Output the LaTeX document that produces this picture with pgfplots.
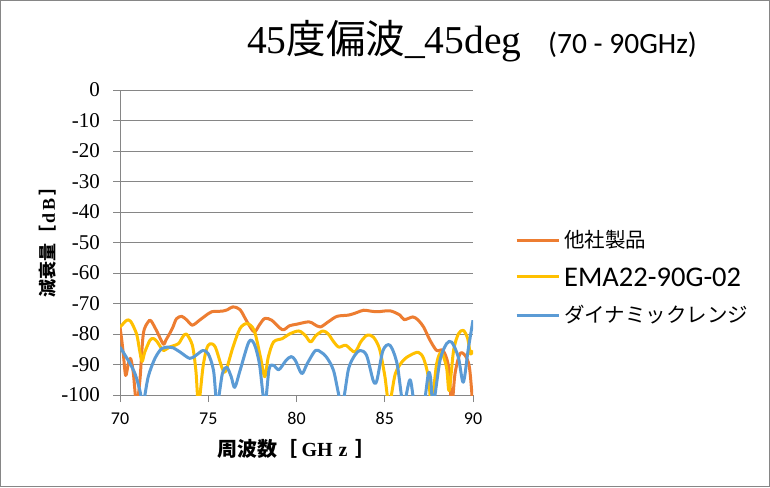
\documentclass[border=0pt]{standalone}
\usepackage{pgfplots}
\pgfplotsset{compat=1.18}
\usepackage{fontspec}
\setmainfont{Liberation Serif}
\newfontfamily\cjk{Noto Sans CJK JP}
\newfontfamily\calfont{Carlito}
\definecolor{corange}{HTML}{ED7D31}
\definecolor{cyellow}{HTML}{FFC000}
\definecolor{cblue}{HTML}{5B9BD5}
\definecolor{gridc}{HTML}{868686}
\pgfplotsset{
  legendaxis/.style={scale only axis, width=353pt, height=305pt,
    at={(120pt,-395pt)}, anchor=south west, hide axis,
    xmin=0, xmax=1, ymin=0, ymax=1,
    legend cell align=left,
    legend image code/.code={\draw[##1, line width=3pt] (0pt,0pt) -- (42pt,0pt);},
    legend style={draw=none, fill=none, inner sep=0pt, column sep=4pt,
      at={(1.119,#1)}, anchor=west}},
}
\begin{document}
\begin{tikzpicture}[x=1pt,y=1pt]
\fill[white] (0,0) rectangle (770,-487);
\draw[gridc,line width=0.8pt] (0.5,-0.5) rectangle (769.5,-486.5);
\node[anchor=base west,inner sep=0pt] at (247,-53) {\fontsize{39.5}{39.5}\selectfont 45{\cjk 度偏波}\_45deg};
\node[anchor=base west,inner sep=0pt] at (548,-53) {\calfont\fontsize{29.5}{29.5}\selectfont (70 - 90GHz)};
\begin{axis}[
  scale only axis, width=353pt, height=305pt,
  at={(120pt,-395pt)}, anchor=south west,
  xmin=70, xmax=90, ymin=-100, ymax=0,
  axis lines*=left,
  axis line style={gridc, line width=0.8pt},
  xtick={70,75,80,85,90},
  xticklabels={70,75,80,85,90},
  ytick={-100,-90,-80,-70,-60,-50,-40,-30,-20,-10,0},
  yticklabels={-100,-90,-80,-70,-60,-50,-40,-30,-20,-10,0},
  ymajorgrids, grid style={gridc, line width=0.8pt},
  tick align=outside, major tick length=7pt,
  tick style={gridc, line width=0.8pt},
  xticklabel style={font=\calfont\fontsize{18}{18}\selectfont, yshift=-7pt},
  yticklabel style={font=\fontsize{21}{21}\selectfont, inner sep=0pt, anchor=east, xshift=-13pt},
  xlabel={{\cjk\bfseries 周波数［}\hspace{4pt}\textbf{GH\hspace{6pt}z}\hspace{8pt}{\cjk\bfseries ］}},
  ylabel={{\cjk\bfseries 減衰量［}\hspace{2pt}\textbf{d\hspace{3pt}B}\hspace{3pt}{\cjk\bfseries ］}},
  xlabel style={font=\fontsize{20}{20}\selectfont, at={(axis description cs:0.5,-0.177)}, anchor=center},
  ylabel style={font=\fontsize{18}{18}\selectfont, at={(axis description cs:-0.204,0.518)}, anchor=center, rotate=0},
  clip=true,
  every axis plot/.append style={line width=3pt, smooth, tension=0.5, line join=round},
]
\addplot[corange] coordinates {
(70.0,-77.7) (70.1,-82) (70.19,-86.6) (70.32,-93.6) (70.47,-89.8) (70.6,-88) (70.75,-92.5) (70.94,-103) (71.13,-95) (71.32,-80) (71.6,-76) (71.76,-75.7) (72.08,-79) (72.45,-83.3) (72.6,-82) (72.8,-80) (73.0,-77.7) (73.2,-75) (73.5,-74.2) (73.8,-75.5) (74.1,-77.1) (74.5,-75.5) (74.8,-74.2) (75.2,-72.7) (75.8,-72.5) (76.1,-72) (76.4,-71.1) (76.8,-72) (77.2,-76) (77.6,-79.3) (77.9,-77) (78.2,-74.9) (78.6,-75.5) (79.2,-78.6) (79.6,-77.3) (80.0,-76.8) (80.7,-76) (81.0,-76.8) (81.35,-77.7) (81.8,-76) (82.3,-74.2) (82.95,-73.8) (83.4,-73) (83.8,-72.2) (84.2,-72.5) (84.6,-72.7) (85.3,-72.4) (85.86,-73.8) (86.1,-75.3) (86.6,-74.4) (86.9,-75.5) (87.2,-77.7) (87.56,-82) (87.94,-85.4) (88.3,-85.4) (88.6,-90.3) (88.8,-103) (88.98,-93) (89.26,-86.5) (89.55,-87) (89.8,-91) (89.98,-103)
};
\addplot[cyellow] coordinates {
(70.0,-77.7) (70.2,-76.5) (70.38,-75.5) (70.6,-75.8) (70.94,-80) (71.1,-85) (71.25,-89) (71.4,-86) (71.7,-82) (71.9,-81.5) (72.1,-82.5) (72.36,-84.8) (72.5,-85.4) (72.8,-84.3) (73.3,-83.2) (73.55,-81) (73.76,-80) (74.1,-83.7) (74.3,-92) (74.45,-103) (74.7,-90.9) (74.9,-85) (75.1,-83.2) (75.4,-84.3) (75.8,-91.4) (76.0,-92) (76.4,-84.3) (76.8,-78.2) (77.2,-76.6) (77.6,-78.8) (77.96,-87.6) (78.2,-94) (78.4,-87.6) (78.7,-82.6) (79.2,-81.5) (79.6,-80) (80.13,-79) (80.5,-80.5) (80.8,-82.6) (81.1,-80.5) (81.5,-79) (81.8,-80) (82.1,-82.5) (82.4,-84.3) (82.8,-83.7) (83.3,-85.9) (83.65,-82.5) (84.0,-80.4) (84.35,-81) (84.7,-84.8) (85.0,-93.6) (85.25,-103) (85.6,-93) (86.04,-88.7) (86.43,-87) (86.9,-86) (87.2,-88) (87.47,-94) (87.65,-103) (87.94,-89.8) (88.2,-86) (88.5,-90.9) (88.65,-98.5) (88.9,-85.4) (89.17,-80) (89.45,-78.8) (89.7,-81.5) (89.85,-86.5) (90.0,-85.4)
};
\addplot[cblue] coordinates {
(70.0,-84.3) (70.47,-88.7) (70.85,-93) (71.13,-98.6) (71.3,-103) (71.6,-94) (71.98,-88) (72.36,-84.8) (72.74,-84.3) (73.0,-84.5) (73.4,-85.9) (73.95,-88) (74.3,-87) (74.7,-85.4) (75.0,-86.5) (75.3,-92) (75.5,-103) (75.8,-93) (76.05,-90.9) (76.3,-94) (76.5,-97.5) (76.8,-92) (77.3,-82.6) (77.6,-83.2) (77.9,-89.8) (78.2,-103) (78.45,-91.4) (78.7,-90.3) (79.0,-91.7) (79.4,-88.7) (79.7,-87.4) (79.94,-88.7) (80.3,-93) (80.6,-89.8) (81.07,-85.4) (81.4,-86) (81.7,-87.6) (82.1,-92) (82.57,-103) (82.95,-91.4) (83.3,-87) (83.6,-85.4) (83.97,-87) (84.35,-95.3) (84.55,-95.3) (84.9,-85.4) (85.3,-83.7) (85.7,-89.8) (86.05,-103) (86.43,-95) (86.7,-103) (87.2,-103) (87.47,-93) (87.6,-94.5) (87.75,-103) (88.13,-88.7) (88.5,-83.2) (88.8,-82.7) (89.17,-87.6) (89.45,-95.8) (89.73,-85) (90.0,-75.5)
};
\end{axis}
\begin{axis}[legendaxis=0.5082, legend style={font=\cjk\fontsize{20.5}{20.5}\selectfont, nodes={inner sep=0pt, text height=15.6pt, text depth=0pt}}]
\addlegendimage{corange}
\addlegendentry{他社製品}
\end{axis}
\begin{axis}[legendaxis=0.3869, legend style={font=\calfont\fontsize{28.5}{28.5}\selectfont, nodes={inner sep=0pt, text height=18.4pt, text depth=0pt}}]
\addlegendimage{cyellow}
\addlegendentry{EMA22-90G-02}
\end{axis}
\begin{axis}[legendaxis=0.2623, legend style={font=\cjk\fontsize{20.5}{20.5}\selectfont, nodes={inner sep=0pt, text height=15.6pt, text depth=0pt}}]
\addlegendimage{cblue}
\addlegendentry{ダイナミックレンジ}
\end{axis}
\end{tikzpicture}
\end{document}
